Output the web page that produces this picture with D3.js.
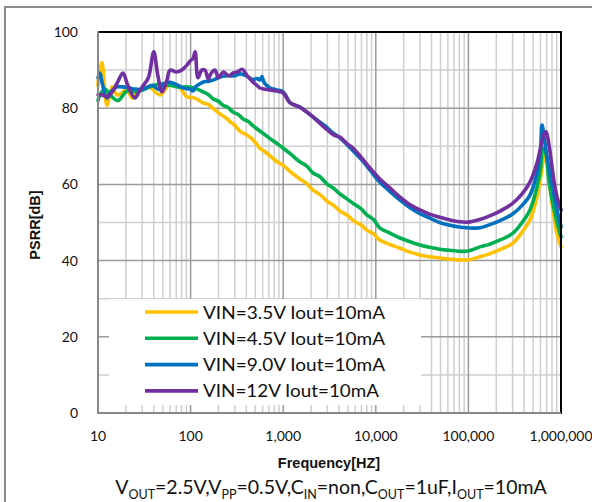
<!DOCTYPE html>
<html><head><meta charset="utf-8">
<script src="https://cdn.jsdelivr.net/npm/d3@7"></script>
<style>
html,body{margin:0;padding:0;background:#fff;}
svg{display:block;}
</style></head>
<body>
<svg id="chart" width="592" height="502"></svg>
<script>
// ---- data ----
const seriesNames = ["VIN=3.5V Iout=10mA","VIN=4.5V Iout=10mA","VIN=9.0V Iout=10mA","VIN=12V Iout=10mA"];
const seriesColors = ["#FFC000","#00B050","#0070C0","#7030A0"];

const freqY = [10,10.25,11,12.5,14.2,16,18,20.6,23.3,28.4,36,46.7,60,73,82.5,91,105,117,136,155,174,207,240,266,300,340,390,439,500,560,640,720,850,1000,1200,1500,1800,2100,2500,3000,3500,4100,5000,5700,7000,8000,9500,11000,14000,18000,23000,30000,38000,49000,62000,75000,99000,133000,165000,200000,250000,303000,380000,462000,551000,600000,640000,680000,740000,800000,906000,1000000];
const valY  = [86,89,92,80.8,85.6,83.5,84,85,82.7,84.8,85.5,83.5,86.4,86,84.3,83,82.8,82.4,81.4,81,80,78.5,77.5,76.5,75.5,74,73.2,72.4,71,69.5,68.5,67.5,66,65,63.3,61.5,60.2,58.5,57.3,55.5,54.5,53,51.8,50.5,49.3,48,47,45.4,44.3,43.3,42.3,41.5,41,40.7,40.4,40.2,40.2,41,41.7,42.5,43.5,44.6,47.5,50.7,56.7,61.5,66,68,62,55,47,43.6];

const freqG = [10,10.5,11.9,13.5,16.4,20.6,26.4,36.5,46.7,60,77,91,117,136,155,174,200,223,254,286,330,367,420,471,560,640,720,850,1000,1200,1500,1800,2100,2500,3000,3500,4100,5000,5700,7000,8000,9500,11000,14000,18000,23000,30000,38000,49000,62000,75000,99000,133000,165000,200000,250000,303000,380000,462000,551000,600000,640000,680000,740000,800000,906000,1000000];
const valG  = [82,83.5,85,83.5,82,84.5,84.3,85.6,86.4,86,85.5,85.6,85,84.3,83.6,82.5,81.8,80.8,80.2,79,78.3,77.2,76.5,75.4,74,73,72,70.8,69.5,68,66,64.8,63,62,60,59,57.5,56,55,53.5,52,50.7,48.6,47.3,46,45,44.1,43.5,43,42.7,42.5,42.5,43.6,44.2,45,46,47.2,50,53.3,59.3,64,69.5,68.5,61,56,50,46.2];

const freqB = [10,10.5,11,12.5,14,16,18,20.6,25,30.6,36,39,45,52,60,73,85,99,106,112,126,143,154,180,207,250,300,340,400,470,522,560,590,620,720,850,1000,1190,1520,1800,2310,2800,3440,4100,5340,7000,8500,11000,14000,18000,23000,30000,38000,49000,65000,80000,99000,133000,165000,220000,303000,380000,462000,551000,600000,624000,660000,720000,800000,906000,1000000];
const valB  = [88,89.2,87,82.7,84.5,85.6,85.6,85.5,85,85,85.8,86,85,86.5,86.8,86,85.2,85,84.5,85.5,86.4,87,87,87.5,88.2,88.5,88.5,89,88.5,87.5,87.8,87.4,88.3,86.8,85.3,84.8,84.3,81.4,80.3,79,76.9,75.5,73.5,72.2,69.5,66.5,64,60.6,58.3,56,54,52.3,51.2,50,49.2,48.8,48.6,48.6,49.3,50.5,52.3,54.5,57.2,63,69,75.6,72,66,60,53.3,48.8];

const freqP = [10,11,12.5,14,16.4,18.6,21,25,28,31,35,40,44,49,55,60,70,80,91,100,106,112,120,132,143,155,165,183,200,225,260,285,320,360,410,470,520,560,640,720,850,1000,1190,1500,1800,2100,2500,3000,3500,4100,5000,5700,7000,8500,11000,14000,18000,23000,30000,38000,49000,65000,80000,99000,133000,165000,220000,300000,380000,462000,551000,600000,650000,690000,740000,800000,850000,906000,1000000];
const valP  = [83.5,83.5,83,84,87,89.2,86,82.7,84.5,86,88,94.8,89,84.3,87,90,89.5,90,91.3,92.5,93,94.8,88,90,90,87.6,89,90,88,89.5,88.5,89.2,89.5,90.2,88.5,86.9,86,85.3,85,84.8,84.5,84,81.4,80.3,79,77.7,76,74.3,73,72.4,70.5,69.5,67,64.5,61.5,59.2,56.8,54.8,53.3,52.2,51.4,50.6,50.2,50.1,50.8,51.6,53,55,57.5,60.6,65.6,69.5,73,73.8,70.5,64.6,60,56.7,53.3];

const xTicks = [10,100,1000,10000,100000,1000000];
const yTicks = [0,20,40,60,80,100];

const series = [
  {name: seriesNames[0], color: seriesColors[0], f: freqY, v: valY},
  {name: seriesNames[1], color: seriesColors[1], f: freqG, v: valG},
  {name: seriesNames[2], color: seriesColors[2], f: freqB, v: valB},
  {name: seriesNames[3], color: seriesColors[3], f: freqP, v: valP}
];

// ---- layout ----
const svg = d3.select("#chart");
const L = 98, R = 561, T = 32, B = 413;
const x = d3.scaleLog().domain([10, 1000000]).range([L, R]);
const y = d3.scaleLinear().domain([0, 100]).range([B, T]);

// outer frame
svg.append("rect").attr("x",5).attr("y",7).attr("width",600).attr("height",510)
  .attr("fill","#fff").attr("stroke","#8c8c8c").attr("stroke-width",2);

// grid
const g = svg.append("g");
const minorX = [];
for (let d = 10; d < 1000000; d *= 10) for (let k = 2; k <= 9; k++) minorX.push(d*k);
g.selectAll(".vminor").data(minorX).join("line")
  .attr("x1", d=>x(d)).attr("x2", d=>x(d)).attr("y1", T).attr("y2", B)
  .attr("stroke","#cfcfcf").attr("stroke-width",1.5);
g.selectAll(".hminor").data(d3.range(10,100,20)).join("line")
  .attr("x1", L).attr("x2", R).attr("y1", d=>y(d)).attr("y2", d=>y(d))
  .attr("stroke","#cfcfcf").attr("stroke-width",1.5);
g.selectAll(".vmajor").data(xTicks.slice(1,-1)).join("line")
  .attr("x1", d=>x(d)).attr("x2", d=>x(d)).attr("y1", T).attr("y2", B)
  .attr("stroke","#9a9a9a").attr("stroke-width",1.5);
g.selectAll(".hmajor").data(yTicks.slice(1,-1)).join("line")
  .attr("x1", L).attr("x2", R).attr("y1", d=>y(d)).attr("y2", d=>y(d))
  .attr("stroke","#9a9a9a").attr("stroke-width",1.5);

// curves
const line = d3.line().x(d=>x(d[0])).y(d=>y(d[1])).curve(d3.curveCatmullRom.alpha(0.5));
svg.append("g").selectAll("path").data(series).join("path")
  .attr("d", s => line(s.f.map((f,i)=>[f, s.v[i]])))
  .attr("fill","none").attr("stroke", s=>s.color).attr("stroke-width",3.6)
  .attr("stroke-linejoin","round").attr("stroke-linecap","round");

// axes frame
svg.append("line").attr("x1",L).attr("x2",R).attr("y1",T).attr("y2",T).attr("stroke","#000").attr("stroke-width",2);
svg.append("line").attr("x1",R).attr("x2",R).attr("y1",T-1).attr("y2",B+1).attr("stroke","#000").attr("stroke-width",2);

// legend box
const lg = svg.append("g");
lg.append("rect").attr("x",109).attr("y",299).attr("width",312).attr("height",106).attr("fill","#fff");
const ly0 = 312, ldy = 26.3;
series.forEach((s,i)=>{
  const yy = ly0 + i*ldy;
  lg.append("line").attr("x1",145).attr("x2",198).attr("y1",yy).attr("y2",yy)
    .attr("stroke",s.color).attr("stroke-width",3.6);
  lg.append("text").attr("x",203).attr("y",yy+6.5).text(s.name)
    .attr("font-family","Lato, 'Open Sans', sans-serif").attr("font-size",18)
    .attr("textLength", i===3 ? 176 : 182).attr("lengthAdjust","spacingAndGlyphs").attr("fill","#111");
});

svg.append("line").attr("x1",L).attr("x2",L).attr("y1",T-1).attr("y2",B+1).attr("stroke","#888").attr("stroke-width",2);
svg.append("line").attr("x1",L-1).attr("x2",R).attr("y1",B).attr("y2",B).attr("stroke","#888").attr("stroke-width",2);

// y tick labels
svg.append("g").selectAll("text").data(yTicks).join("text")
  .attr("x",78).attr("y",d=>y(d)+5).attr("text-anchor","end")
  .attr("font-family","Lato, sans-serif").attr("font-size",14).attr("fill","#111")
  .text(d=>d);

// x tick labels
const fmt = d3.format(",");
svg.append("g").selectAll("text").data(xTicks).join("text")
  .attr("x",d=>x(d)).attr("y",441).attr("text-anchor","middle")
  .attr("font-family","Lato, sans-serif").attr("font-size",14).attr("fill","#111")
  .text(d=>fmt(d));

// axis titles
svg.append("text").attr("x",329).attr("y",468).attr("text-anchor","middle")
  .attr("font-family","'Liberation Sans', Arial, sans-serif").attr("font-weight","bold")
  .attr("font-size",14.5).attr("fill","#111").text("Frequency[HZ]");
svg.append("text").attr("transform","translate(40,225) rotate(-90)").attr("text-anchor","middle")
  .attr("font-family","'Liberation Sans', Arial, sans-serif").attr("font-weight","bold")
  .attr("font-size",14.5).attr("fill","#111").text("PSRR[dB]");

// subtitle with subscripts
const sub = svg.append("text").attr("x",331).attr("y",494).attr("text-anchor","middle")
  .attr("font-family","Lato, sans-serif").attr("font-size",19.5).attr("fill","#111");
const parts = [["V",""],["OUT","s"],["=2.5V,V",""],["PP","s"],["=0.5V,C",""],["IN","s"],["=non,C",""],["OUT","s"],["=1uF,I",""],["OUT","s"],["=10mA",""]];
parts.forEach((p,i)=>{
  const t = sub.append("tspan").text(p[0]);
  if (p[1]==="s") t.attr("font-size",12.5).attr("dy",4.5);
  else if (i>0) t.attr("dy",-4.5);
});
</script>
</body></html>
